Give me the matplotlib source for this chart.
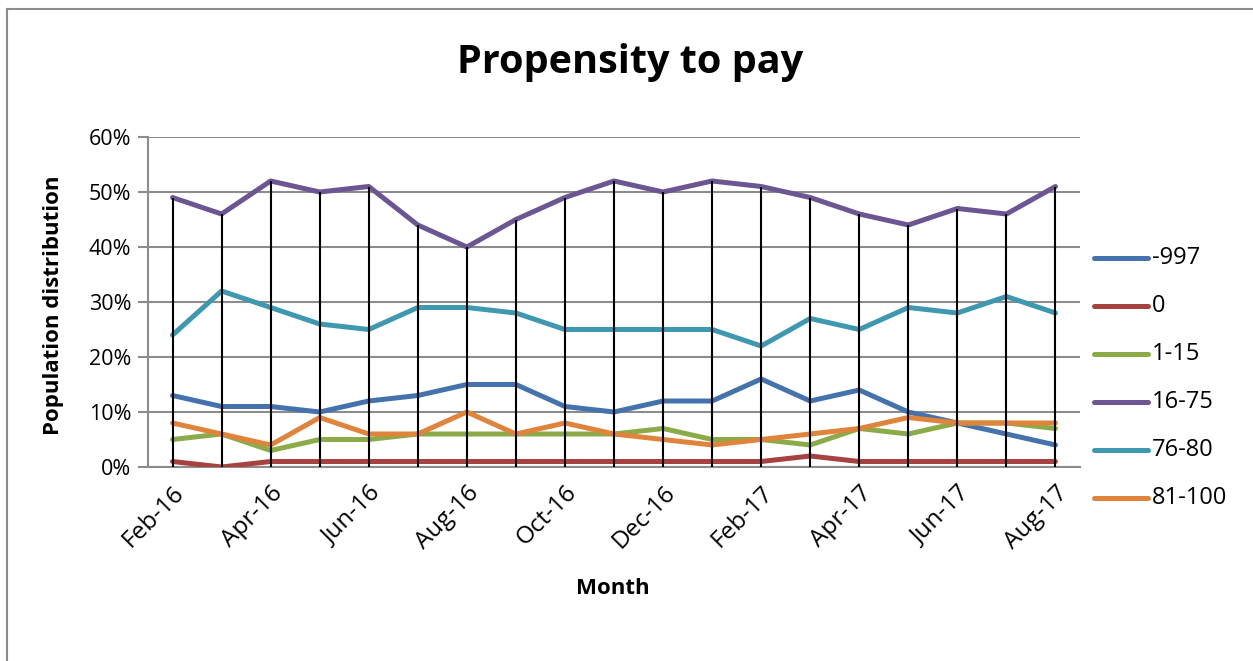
import matplotlib
matplotlib.use("Agg")
import matplotlib.pyplot as plt
from matplotlib.lines import Line2D
import numpy as np

months = ["Feb-16", "Mar-16", "Apr-16", "May-16", "Jun-16", "Jul-16", "Aug-16",
          "Sep-16", "Oct-16", "Nov-16", "Dec-16", "Jan-17", "Feb-17", "Mar-17",
          "Apr-17", "May-17", "Jun-17", "Jul-17", "Aug-17"]

s_neg997 = [13, 11, 11, 10, 12, 13, 15, 15, 11, 10, 12, 12, 16, 12, 14, 10, 8, 6, 4]
s_zero = [1, 0, 1, 1, 1, 1, 1, 1, 1, 1, 1, 1, 1, 2, 1, 1, 1, 1, 1]
s_1_15 = [5, 6, 3, 5, 5, 6, 6, 6, 6, 6, 7, 5, 5, 4, 7, 6, 8, 8, 7]
s_16_75 = [49, 46, 52, 50, 51, 44, 40, 45, 49, 52, 50, 52, 51, 49, 46, 44, 47, 46, 51]
s_76_80 = [24, 32, 29, 26, 25, 29, 29, 28, 25, 25, 25, 25, 22, 27, 25, 29, 28, 31, 28]
s_81_100 = [8, 6, 4, 9, 6, 6, 10, 6, 8, 6, 5, 4, 5, 6, 7, 9, 8, 8, 8]

series_names = ["-997", "0", "1-15", "16-75", "76-80", "81-100"]
series_values = [s_neg997, s_zero, s_1_15, s_16_75, s_76_80, s_81_100]
series_colors = ["#4472ad", "#a64340", "#8aab47", "#6b5592", "#3e98b0", "#e0843b"]

FONT = ["Open Sans", "DejaVu Sans"]
plt.rcParams["font.family"] = FONT

W, H = 1253, 661
fig = plt.figure(figsize=(W / 100, H / 100), dpi=100)
fig.patch.set_facecolor("white")

# outer chart frame (top and left edges visible)
fig.add_artist(Line2D([7 / W, 7 / W], [0, 1 - 9 / H], color="#8c8c8c", lw=1.5))
fig.add_artist(Line2D([7 / W, 1.0], [1 - 9 / H, 1 - 9 / H], color="#8c8c8c", lw=1.5))

ax = fig.add_axes([148 / W, (H - 467) / H, (1080 - 148) / W, (467 - 137) / H])
x = np.arange(len(months))

for name, vals, col in zip(series_names, series_values, series_colors):
    ax.plot(x, np.array(vals) / 100, color=col, lw=3.6, solid_capstyle="round",
            solid_joinstyle="round", zorder=3)

# drop lines from the highest value down to the category axis
tops = np.max(np.array(series_values), axis=0) / 100
ax.vlines(x, 0, tops, colors="black", lw=1.5, zorder=4)

ax.set_xlim(-0.5, len(months) - 0.5)
ax.set_ylim(0, 0.6)
ax.set_yticks(np.arange(0, 0.61, 0.1))
ax.set_yticklabels([f"{int(round(v * 100))}%" for v in np.arange(0, 0.61, 0.1)])
ax.yaxis.grid(True, color="#8c8c8c", lw=1.5)
ax.set_axisbelow(True)
ax.tick_params(axis="y", length=7, width=1.5, color="#8c8c8c", labelsize=15.5, pad=5)

ax.set_xticks(x[::2])
ax.set_xticklabels(months[::2], rotation=45, ha="right", rotation_mode="anchor")
ax.tick_params(axis="x", length=0, labelsize=17.5, pad=10)

for sp in ["top", "right"]:
    ax.spines[sp].set_visible(False)
for sp in ["left", "bottom"]:
    ax.spines[sp].set_color("#8c8c8c")
    ax.spines[sp].set_linewidth(1.5)

fig.text(613 / W, 1 - 588 / H, "Month", fontsize=16, fontweight="bold",
         ha="center", va="center")
fig.text(54 / W, 1 - 305 / H, "Population distribution", rotation=90, fontsize=16,
         fontweight="bold", ha="center", va="center")

fig.text(630 / W, 1 - 62 / H, "Propensity to pay", fontsize=28.5, fontweight="bold",
         ha="center", va="center")

# legend drawn at the right of the plot area
for i, (name, col) in enumerate(zip(series_names, series_colors)):
    yy = 1 - (258 + 48 * i) / H
    fig.add_artist(Line2D([1094 / W, 1148 / W], [yy, yy], color=col, lw=3.6,
                          solid_capstyle="round"))
    fig.text(1152 / W, yy, name, fontsize=17, ha="left", va="center")

fig.savefig("out.png", dpi=100)
